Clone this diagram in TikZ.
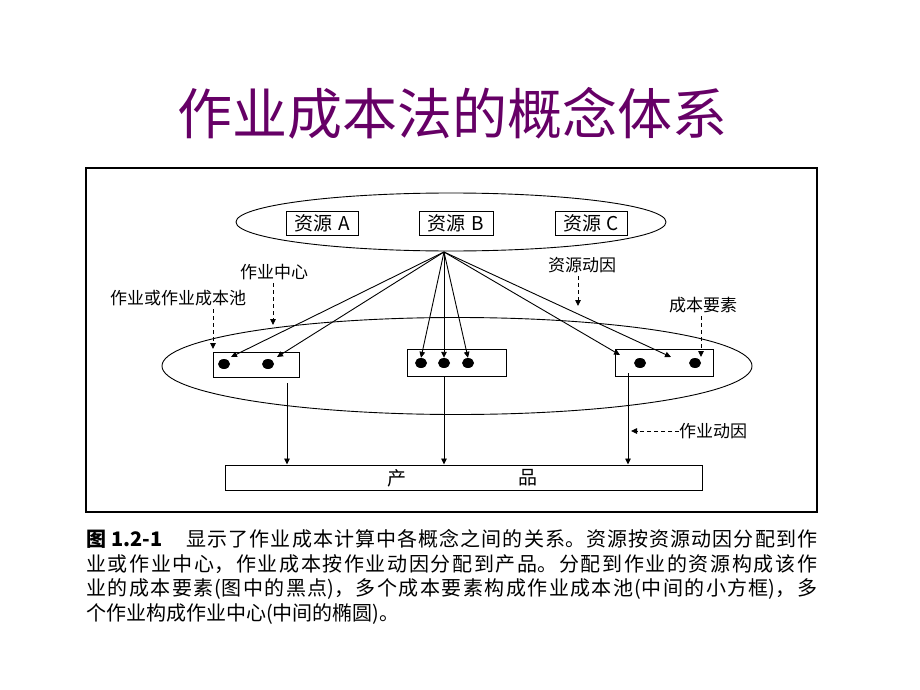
\documentclass[tikz,border=0pt]{standalone}
\usepackage{fontspec}
\setmainfont{Noto Sans CJK SC}
\usetikzlibrary{arrows.meta,shapes.geometric}
\definecolor{titlepurple}{RGB}{102,0,102}
\XeTeXlinebreaklocale "zh"
\XeTeXlinebreakskip=0pt plus 4pt
\begin{document}
\begin{tikzpicture}[x=1pt,y=-1pt,
  frame/.style={draw, line width=1.1pt},
  oval/.style={draw, ellipse, line width=0.9pt, inner sep=0},
  rbox/.style={draw, line width=1pt, inner sep=0, minimum height=24pt, font=\fontsize{19}{20}\selectfont},
  pool/.style={draw, line width=1pt, inner sep=0, minimum height=27pt},
  elem/.style={ellipse, fill=black, inner sep=0, minimum width=12pt, minimum height=10pt},
  lab/.style={inner sep=0, font=\fontsize{17}{20}\selectfont},
  arr/.style={line width=0.9pt, -{Triangle[length=6pt,width=5.5pt]}},
  darr/.style={arr, dash pattern=on 4pt off 3pt}]
\useasboundingbox (0,0) rectangle (920,690);
\fill[white] (0,0) rectangle (920,690);

% title
\node[inner sep=0, font=\fontsize{55}{60}\selectfont, text=titlepurple] (title) at (452,113) {作业成本法的概念体系};

% frame
\node[frame, minimum width=731pt, minimum height=344pt, inner sep=0] (frm) at (451.5,340) {};

% resources
\node[oval, minimum width=430pt, minimum height=58pt] (top) at (451,222) {};
\node[rbox, minimum width=72pt] (ra) at (322,223) {资源\hspace{0.3em}A};
\node[rbox, minimum width=74pt] (rb) at (456,223) {资源\hspace{0.3em}B};
\node[rbox, minimum width=72pt] (rc) at (591,223) {资源\hspace{0.3em}C};
\coordinate (fan) at (444,252);

% activity center
\node[oval, minimum width=590pt, minimum height=97pt] (mid) at (457,366) {};
\node[pool, minimum width=86pt, minimum height=25pt] (pl) at (256,364.5) {};
\node[pool, minimum width=99pt] (pm) at (456.5,363) {};
\node[pool, minimum width=98pt] (pr) at (664,363) {};

\node[elem] (d1) at (224,364) {};
\node[elem] (d2) at (268,364) {};
\node[elem] (d3) at (421,363) {};
\node[elem] (d4) at (444,363) {};
\node[elem] (d5) at (468,363) {};
\node[elem] (d6) at (640,363) {};
\node[elem] (d7) at (695,363) {};

\coordinate (t1) at (231,357);
\coordinate (t2) at (277,357);
\coordinate (t6) at (620,355);
\coordinate (t7) at (671,357);

\draw[arr] (fan) -- (t1);
\draw[arr] (fan) -- (t2);
\draw[arr] (fan) -- (d3.north);
\draw[arr] (fan) -- (d4.north);
\draw[arr] (fan) -- (d5.north);
\draw[arr] (fan) -- (t6);
\draw[arr] (fan) -- (t7);

% product
\node[draw, line width=1pt, inner sep=0, minimum width=477pt, minimum height=25pt] (prod) at (463.5,477.5) {};
\node[inner sep=0, font=\fontsize{19}{20}\selectfont] (p1) at (397,478) {产};
\node[inner sep=0, font=\fontsize{19}{20}\selectfont] (p2) at (528,478) {品};

\coordinate (v1) at (287,383);
\coordinate (v2) at (444,377);
\coordinate (v3) at (628,373);
\draw[arr] (v1) -- (v1 |- prod.north);
\draw[arr] (v2) -- (v2 |- prod.north);
\draw[arr] (v3) -- (v3 |- prod.north);

% labels
\node[lab] (lc) at (274,272) {作业中心};
\node[lab] (lp) at (178,298) {作业或作业成本池};
\node[lab] (lr) at (582,265) {资源动因};
\node[lab] (le) at (703,305) {成本要素};
\node[lab, anchor=west] (la) at (679,431) {作业动因};

\coordinate (c1) at (273,325);
\coordinate (c2) at (213,349);
\coordinate (c3) at (578,306);
\coordinate (c4) at (701,357);
\coordinate (c5) at (631,431);
\draw[darr] (lc.south -| c1) ++(0,3) -- (c1);
\draw[darr] (lp.south -| c2) ++(0,3) -- (c2);
\draw[darr] (lr.south -| c3) ++(0,3) -- (c3);
\draw[darr] (le.south -| c4) ++(0,3) -- (c4);
\draw[darr] (la.west) -- (c5);

% caption
\node[anchor=north west, inner sep=0] (cap) at (86,529) {\parbox[t]{731pt}{\fontsize{20}{24.7}\selectfont
\textbf{图 1.2-1}\hspace{1.2em}显示了作业成本计算中各概念之间的关系。资源按资源动因分配到作\linebreak
业或作业中心，作业成本按作业动因分配到产品。分配到作业的资源构成该作\linebreak
业的成本要素(图中的黑点)，多个成本要素构成作业成本池(中间的小方框)，多\linebreak
个作业构成作业中心(中间的椭圆)。}};
\end{tikzpicture}
\end{document}
